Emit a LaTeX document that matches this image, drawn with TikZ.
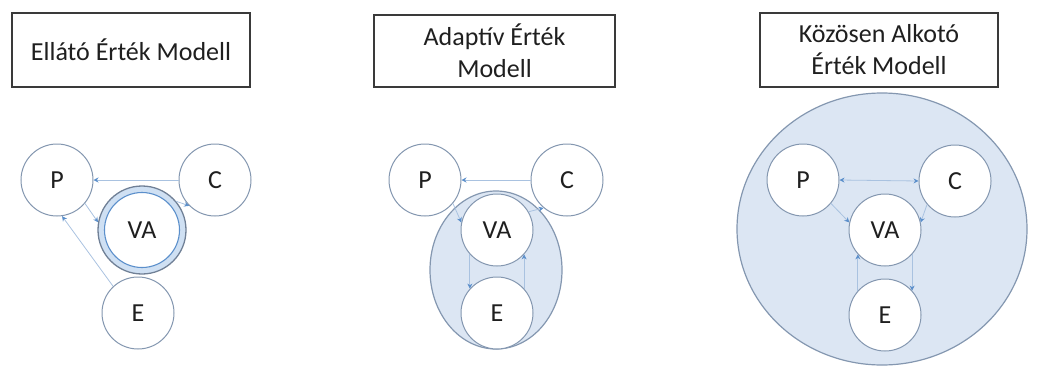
\documentclass[tikz,border=0pt]{standalone}
\usepackage{fontspec}
\setmainfont{Carlito}
\usetikzlibrary{arrows.meta,shapes.geometric}
\definecolor{ringc}{HTML}{8497B0}
\definecolor{fillc}{HTML}{DCE6F3}
\definecolor{bandc}{HTML}{CFE0F3}
\definecolor{linec}{HTML}{A9C2E0}
\definecolor{headc}{HTML}{5B8FCB}
\definecolor{boxc}{HTML}{3A3A3A}
\definecolor{txtc}{HTML}{1F1F1F}
\tikzset{
  titlebox/.style={draw=boxc, line width=1.3pt, fill=white, text=txtc, align=center,
    font=\fontsize{26}{32}\selectfont, inner sep=0pt},
  ent/.style={circle, draw=ringc, line width=1pt, fill=white, minimum size=72pt,
    inner sep=0pt, text=txtc, font=\fontsize{26}{30}\selectfont},
  conn/.style={draw=linec, line width=0.8pt, -{Stealth[length=5pt,width=5pt,color=headc]}},
  bconn/.style={draw=linec, line width=0.8pt, {Stealth[length=5pt,width=5pt,color=headc]}-{Stealth[length=5pt,width=5pt,color=headc]}},
  zone/.style={draw=ringc, line width=1.2pt, fill=fillc}
}
\begin{document}
\begin{tikzpicture}[x=1pt,y=-1pt]
\useasboundingbox (0,0) rectangle (1041,367);
% ---------- Panel 1 ----------
\node[titlebox, minimum width=238pt, minimum height=74pt] (t1) at (131,50) {Ellátó Érték Modell};
\node[ent] (p1) at (57,180) {P};
\node[ent] (c1) at (215,180) {C};
\node[ent] (e1) at (138,313) {E};
\node[circle, draw=ringc!85!black, line width=1.3pt, fill=bandc, minimum size=88pt, inner sep=0pt] (vaout1) at (142,230) {};
\node[ent, draw=headc, line width=1.1pt, minimum size=75pt] (va1) at (142,230) {VA};
\draw[conn] (c1.west) -- (p1.east);
\draw[conn] (p1.-40) -- (vaout1.170);
\draw[conn] (vaout1.40) -- (c1.225);
\draw[conn] (e1.133) -- (p1.-82);
% ---------- Panel 2 ----------
\node[titlebox, minimum width=241pt, minimum height=72pt] (t2) at (494.5,51) {Adaptív Érték\\Modell};
\node[ellipse, zone, minimum width=132pt, minimum height=158pt] (z2) at (496,270) {};
\node[ent] (p2) at (425,180) {P};
\node[ent] (c2) at (567,180) {C};
\node[ent] (va2) at (497,230) {VA};
\node[ent] (e2) at (497,313) {E};
\draw[conn] (c2.west) -- (p2.east);
\draw[conn] (p2.-40) -- (va2.168);
\draw[conn] (va2.30) -- (c2.230);
\draw[conn] (va2.-138) -- (e2.138);
\draw[conn] (e2.42) -- (va2.-42);
% ---------- Panel 3 ----------
\node[titlebox, minimum width=238pt, minimum height=74pt] (t3) at (879,50) {Közösen Alkotó\\Érték Modell};
\node[ellipse, zone, minimum width=290pt, minimum height=272pt] (z3) at (882,229) {};
\node[ent] (p3) at (803,180) {P};
\node[ent] (c3) at (955,181) {C};
\node[ent] (va3) at (885,230) {VA};
\node[ent] (e3) at (885,315) {E};
\draw[bconn] (p3.east) -- (c3.west);
\draw[conn] (p3.-40) -- (va3.168);
\draw[conn] (c3.220) -- (va3.12);
\draw[conn] (e3.138) -- (va3.-138);
\draw[conn] (va3.-42) -- (e3.42);
\end{tikzpicture}
\end{document}
